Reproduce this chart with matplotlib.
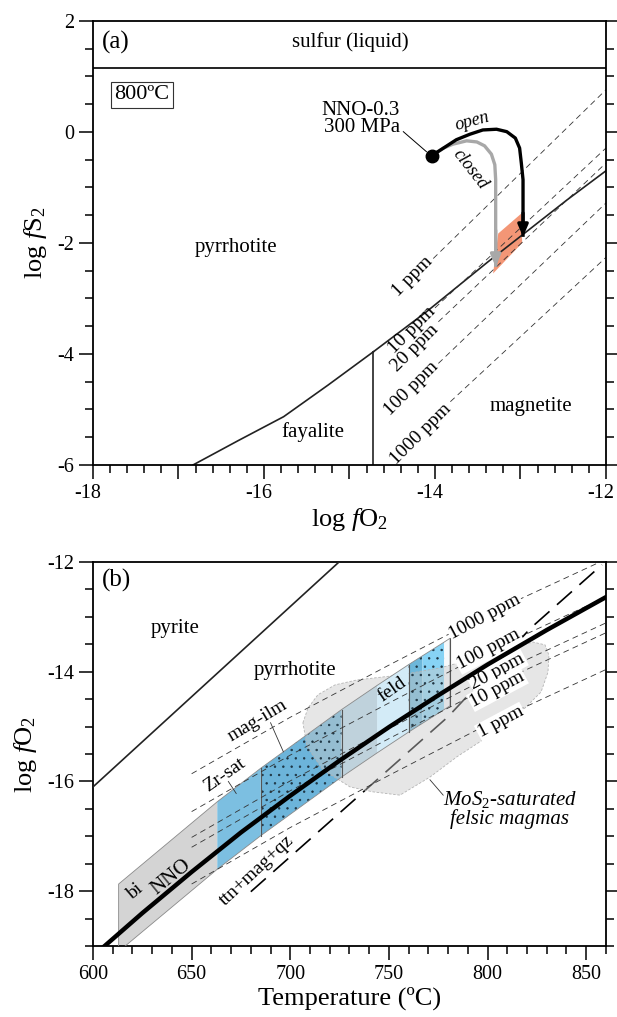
import matplotlib
matplotlib.use('Agg')
import matplotlib.pyplot as plt
import matplotlib.transforms as mtransforms
from matplotlib.patches import Polygon
from matplotlib.ticker import MultipleLocator

plt.rcParams['font.family'] = ['Liberation Serif', 'DejaVu Serif']
plt.rcParams['mathtext.fontset'] = 'custom'
plt.rcParams['mathtext.rm'] = 'Liberation Serif'
plt.rcParams['mathtext.it'] = 'Liberation Serif:italic'
plt.rcParams['axes.unicode_minus'] = False
plt.rcParams['hatch.linewidth'] = 0.5

# ---------------- (a) log fS2 vs log fO2 at 800 C ----------------
s_liquid = 1.15
po_mt_x = [-14.72, -14.10, -13.38, -12.46, -12.0]
po_mt_y = [-3.96, -3.24, -2.34, -1.23, -0.70]
po_fa_x = [-16.83, -16.30, -15.77, -15.25, -14.72]
po_fa_y = [-6.0, -5.56, -5.13, -4.56, -3.96]
fa_mt_x = -14.72

ppm_a_lab = ['1 ppm', '10 ppm', '20 ppm', '100 ppm', '1000 ppm']
ppm_a_x0 = [-14.02, -14.00, -13.96, -13.96, -13.82]
ppm_a_y0 = [-2.28, -3.17, -3.42, -4.17, -4.86]
ppm_a_y1 = [0.76, -0.29, -0.56, -1.28, -2.26]   # at log fO2 = -12
ppm_a_tx = [-14.26, -14.27, -14.23, -14.27, -14.17]
ppm_a_ty = [-2.61, -3.57, -3.89, -4.63, -5.44]

open_x = [-14.04, -13.90, -13.75, -13.59, -13.44, -13.28, -13.16, -13.06, -13.01, -12.99, -12.97, -12.97, -12.97]
open_y = [-0.43, -0.29, -0.14, -0.04, 0.036, 0.049, 0.005, -0.11, -0.29, -0.56, -0.86, -1.46, -1.89]
closed_x = [-14.04, -13.90, -13.79, -13.63, -13.51, -13.42, -13.34, -13.30, -13.29, -13.29, -13.29]
closed_y = [-0.43, -0.29, -0.22, -0.16, -0.18, -0.25, -0.40, -0.59, -0.86, -1.77, -2.43]

melt_x = [-13.26, -12.99, -12.98, -13.32]
melt_y = [-1.83, -1.47, -2.00, -2.55]

# ---------------- (b) log fO2 vs temperature ----------------
py_po_t = [600, 659.3, 724.7]
py_po_y = [-16.10, -14.15, -12.0]

nno_t = [604, 625, 650, 675, 700, 725, 750, 775, 800, 830, 860]
nno_y = [-19.06, -18.40, -17.65, -16.93, -16.26, -15.62, -15.01, -14.43, -13.87, -13.24, -12.64]

ppm_b_lab = ['1000 ppm', '100 ppm', '20 ppm', '10 ppm', '1 ppm']
ppm_b_t = [650, 700, 750, 800, 860]
ppm_b_y = [
    [-15.86, -14.83, -13.88, -12.95, -11.95],
    [-16.55, -15.52, -14.57, -13.64, -12.64],
    [-17.02, -15.99, -15.04, -14.11, -13.11],
    [-17.20, -16.17, -15.22, -14.29, -13.29],
    [-17.87, -16.84, -15.89, -14.96, -13.96],
]
ppm_b_tx = [798.7, 800.7, 805.0, 805.0, 806.8]
ppm_b_ty = [-13.00, -13.60, -13.99, -14.32, -14.92]

ttn_t = [680, 780, 822, 858]
ttn_y = [-18.01, -14.82, -13.20, -12.05]

# buffer band, split into sections: bi, Zr-sat, mag-ilm, ..., feld
band_t = [613, 663, 685, 726, 744, 760, 767, 778, 781]
band_hi = [-17.87, -16.37, -15.76, -14.69, -14.25, -13.87, -13.71, -13.46, -13.39]
band_lo = [-19.10, -17.60, -16.99, -15.92, -15.48, -15.10, -14.94, -14.69, -14.62]
sec_col = ['#d4d4d4', '#7cbfe1', '#6cb4da', '#b9dcee', '#d3ebf7', '#6db7da', '#87d3f5', '#f6f9fb']
sec_dots = [False, False, True, False, False, True, True, False]
sec_top = [False, False, False, False, True, False, False, False]
dividers = [685, 726, 760, 781]

mos2_t = [706.4, 709.0, 714.0, 722.7, 733.8, 755.6, 775.9, 792.6, 809.8, 823.0, 829.1, 831.1,
          830.6, 827.1, 819.0, 809.8, 797.7, 784.5, 770.8, 755.6, 741.9, 730.3, 716.6, 708.5]
mos2_y = [-14.93, -14.66, -14.42, -14.24, -14.15, -14.06, -13.93, -13.77, -13.59, -13.46, -13.51, -13.70,
          -14.01, -14.37, -14.66, -14.92, -15.24, -15.55, -15.92, -16.25, -16.19, -16.10, -15.79, -15.37]

fig = plt.figure(figsize=(6.17, 10.17), dpi=100)
axa = fig.add_axes([0.1507, 0.5428, 0.8314, 0.4366])
axb = fig.add_axes([0.1507, 0.0698, 0.8314, 0.3776])

for ax in (axa, axb):
    for sp in ax.spines.values():
        sp.set_linewidth(1.3)
    ax.tick_params(which='both', direction='out', right=True, top=False, width=1.1, labelsize=14.5)
    ax.tick_params(which='major', length=10)
    ax.tick_params(which='minor', length=5.5)

# ---- panel (a)
axa.set_xlim(-18, -12)
axa.set_ylim(-6, 2)
axa.axhline(s_liquid, color='#222222', lw=1.4)
axa.plot(po_mt_x, po_mt_y, color='#222222', lw=1.2)
axa.plot(po_fa_x, po_fa_y, color='#222222', lw=1.2)
axa.plot([fa_mt_x, fa_mt_x], [-6, po_mt_y[0]], color='#222222', lw=1.2)

axa.add_patch(Polygon(list(zip(melt_x, melt_y)), closed=True, fc='#f39676', ec='none', zorder=1))

for i, lab in enumerate(ppm_a_lab):
    axa.plot([ppm_a_x0[i], -12], [ppm_a_y0[i], ppm_a_y1[i]], color='#333333', lw=0.6,
             dashes=(7, 5), zorder=2)
    axa.text(ppm_a_tx[i], ppm_a_ty[i], lab, rotation=45, ha='center', va='center',
             rotation_mode='anchor', fontsize=14)

axa.plot(closed_x, closed_y, color='#a8a8a8', lw=2.4, zorder=3, solid_capstyle='butt')
axa.annotate('', xy=(closed_x[-1], closed_y[-1]), xytext=(closed_x[-2], closed_y[-2]),
             arrowprops=dict(arrowstyle='-|>,head_length=0.7,head_width=0.3', color='#a8a8a8',
                             lw=2.4, shrinkA=0, shrinkB=0), zorder=3)
axa.plot(open_x, open_y, color='black', lw=2.4, zorder=4, solid_capstyle='butt')
axa.annotate('', xy=(open_x[-1], open_y[-1]), xytext=(open_x[-2], open_y[-2]),
             arrowprops=dict(arrowstyle='-|>,head_length=0.7,head_width=0.3', color='black',
                             lw=2.4, shrinkA=0, shrinkB=0), zorder=4)
axa.plot(open_x[0], open_y[0], 'o', color='black', ms=9, zorder=5)
axa.plot([-14.37, -14.10], [0.005, -0.355], color='black', lw=0.7)

axa.text(-17.9, 1.62, '(a)', fontsize=18, ha='left', va='center')
axa.text(-14.99, 1.62, 'sulfur (liquid)', fontsize=15, ha='center', va='center')
axa.text(-17.43, 0.67, '800ºC', fontsize=16, ha='center', va='center',
         bbox=dict(boxstyle='square,pad=0.15', fc='white', ec='#333333', lw=0.8))
axa.text(-14.41, 0.23, 'NNO-0.3\n300 MPa', fontsize=15, ha='right', va='center', linespacing=0.9)
axa.text(-13.56, 0.19, 'open', fontsize=13, style='italic', rotation=15, ha='center', va='center')
axa.text(-13.59, -0.68, 'closed', fontsize=13, style='italic', rotation=-52, ha='center', va='center')
axa.text(-16.33, -2.09, 'pyrrhotite', fontsize=15, ha='center', va='center')
axa.text(-15.43, -5.40, 'fayalite', fontsize=15, ha='center', va='center')
axa.text(-12.88, -4.95, 'magnetite', fontsize=15, ha='center', va='center')

axa.set_xticks([-18, -17, -16, -15, -14, -13, -12])
axa.set_xticklabels(['-18', '', '-16', '', '-14', '', '-12'])
axa.xaxis.set_minor_locator(MultipleLocator(0.2))
axa.set_yticks([-6, -4, -2, 0, 2])
axa.yaxis.set_minor_locator(MultipleLocator(0.5))
axa.set_xlabel(r'log $f$O$_2$', fontsize=19, labelpad=2)
axa.set_ylabel(r'log $f$S$_2$', fontsize=19, labelpad=6)

# nudge the bottom tick labels a little to the left so '-12' stays on the page
shift = mtransforms.ScaledTranslation(-4 / 72, 0, fig.dpi_scale_trans)
for lbl in axa.get_xticklabels():
    lbl.set_transform(lbl.get_transform() + shift)

# ---- panel (b)
axb.set_xlim(600, 860)
axb.set_ylim(-19, -12)

axb.plot(ttn_t, ttn_y, color='black', lw=1.2, dashes=(12, 6), zorder=1)

for i in range(len(band_t) - 1):
    pts = [(band_t[i], band_lo[i]), (band_t[i], band_hi[i]),
           (band_t[i + 1], band_hi[i + 1]), (band_t[i + 1], band_lo[i + 1])]
    z = 2.5 if sec_top[i] else 1.2
    axb.add_patch(Polygon(pts, closed=True, fc=sec_col[i], ec='none', zorder=z))
    if sec_dots[i]:
        axb.add_patch(Polygon(pts, closed=True, fill=False, hatch='..', ec='#1d3442',
                              lw=0, zorder=2.6))

mos2 = list(zip(mos2_t, mos2_y))
axb.add_patch(Polygon(mos2, closed=True, fc='#c8c8c8', ec='none', alpha=0.45, zorder=2))
axb.add_patch(Polygon(mos2, closed=True, fill=False, ec='#b4b4b4', lw=0.6,
                      ls=(0, (3, 2)), zorder=2))

outline = list(zip(band_t, band_hi)) + list(zip(band_t[::-1], band_lo[::-1]))
axb.add_patch(Polygon(outline, closed=True, fill=False, ec='#8a8a8a', lw=0.6, zorder=3))
for t in dividers:
    k = band_t.index(t)
    axb.plot([t, t], [band_lo[k], band_hi[k]], color='#555555', lw=0.8, zorder=3)

for i, lab in enumerate(ppm_b_lab):
    axb.plot(ppm_b_t, ppm_b_y[i], color='#333333', lw=0.6, dashes=(7, 5), zorder=3)
    axb.text(ppm_b_tx[i], ppm_b_ty[i], lab, rotation=28, ha='center', va='center',
             rotation_mode='anchor', fontsize=14, zorder=3.5,
             bbox=dict(boxstyle='square,pad=0.05', fc='white', ec='none'))

axb.plot(py_po_t, py_po_y, color='#222222', lw=1.2, zorder=3)
axb.plot(nno_t, nno_y, color='black', lw=3.2, zorder=4)

axb.plot([668.6, 672.6], [-16.00, -16.22], color='#333333', lw=0.6, zorder=5)
axb.plot([690.0, 696.5], [-14.93, -15.46], color='#333333', lw=0.6, zorder=5)
axb.plot([770.8, 777.5], [-15.97, -16.25], color='#333333', lw=0.6, zorder=5)

axb.text(604.4, -12.33, '(b)', fontsize=18, ha='left', va='center')
axb.text(641.6, -13.21, 'pyrite', fontsize=15, ha='center', va='center')
axb.text(702.4, -13.97, 'pyrrhotite', fontsize=15, ha='center', va='center')
axb.text(666.7, -15.88, 'Zr-sat', fontsize=14, rotation=35, ha='center', va='center')
axb.text(683.4, -14.89, 'mag-ilm', fontsize=14, rotation=31, ha='center', va='center')
axb.text(751.5, -14.33, 'feld', fontsize=14, rotation=35, ha='center', va='center', zorder=5)
axb.text(621.1, -18.01, 'bi', fontsize=14, rotation=40, ha='center', va='center', zorder=5)
axb.text(639.7, -17.74, 'NNO', fontsize=15, rotation=39, ha='center', va='center', zorder=5)
axb.text(683.1, -17.63, 'ttn+mag+qz', fontsize=14, rotation=43, ha='center', va='center', zorder=5)
axb.text(811.3, -16.50, 'MoS$_2$-saturated\nfelsic magmas', fontsize=15, style='italic',
         ha='center', va='center', linespacing=0.9, zorder=5)

axb.xaxis.set_major_locator(MultipleLocator(50))
axb.xaxis.set_minor_locator(MultipleLocator(10))
axb.set_yticks([-18, -16, -14, -12])
axb.yaxis.set_minor_locator(MultipleLocator(0.5))
axb.set_xlabel('Temperature (ºC)', fontsize=19, labelpad=2)
axb.set_ylabel(r'log $f$O$_2$', fontsize=19, labelpad=6)

fig.savefig('out.png', dpi=100)
